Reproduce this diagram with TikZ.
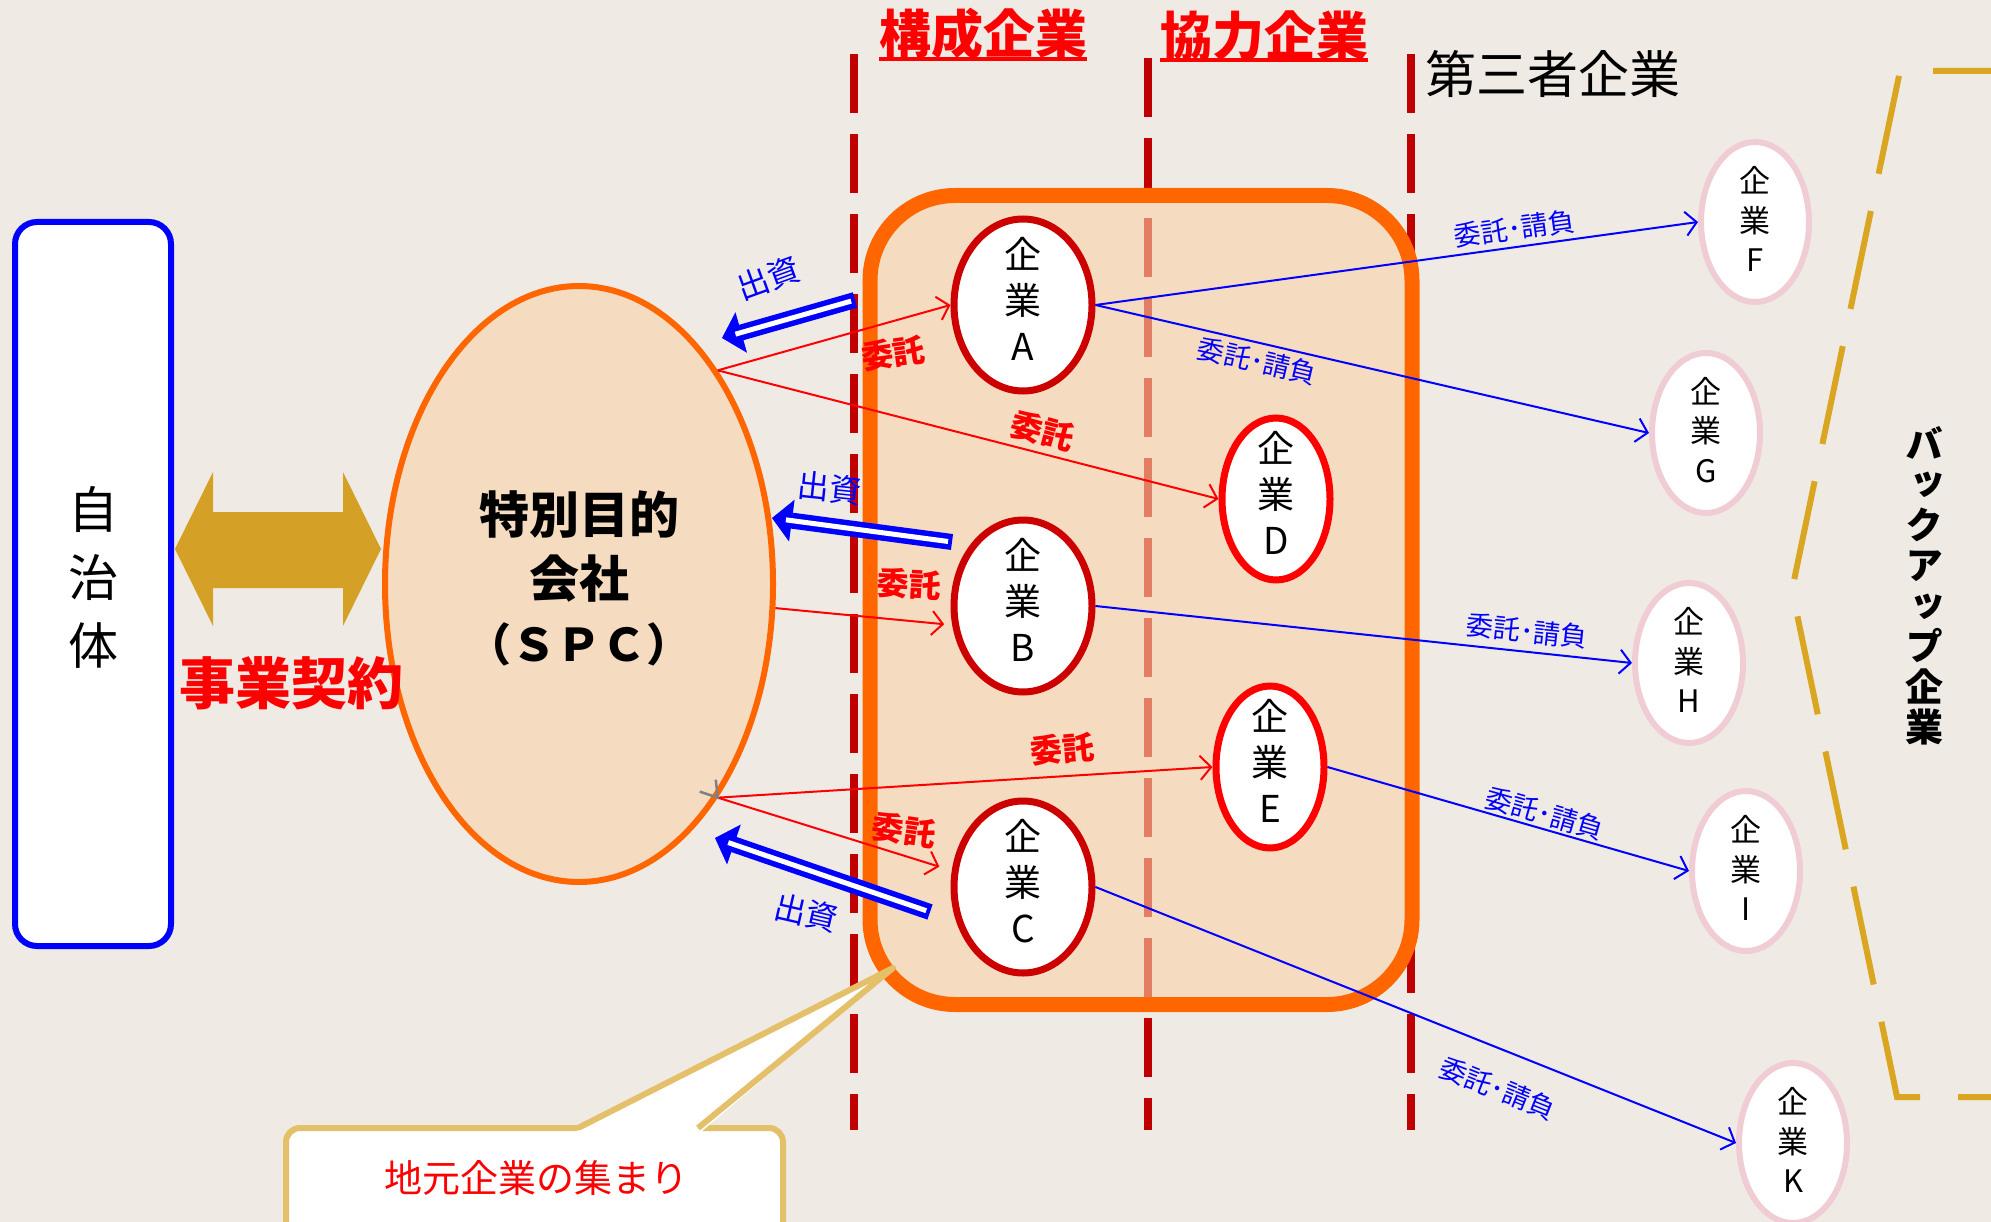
\documentclass[tikz,border=0pt]{standalone}
\usepackage{fontspec}
\newfontfamily\jp{Noto Sans CJK JP}
\newfontfamily\jpv[RawFeature=+vert]{Noto Sans CJK JP}
\usetikzlibrary{shapes.geometric,arrows.meta,calc}
\definecolor{bgc}{RGB}{239,235,228}
\definecolor{peach}{RGB}{245,220,192}
\definecolor{peachT}{RGB}{249,210,168}
\definecolor{orng}{RGB}{255,102,0}
\definecolor{dred}{RGB}{192,0,0}
\definecolor{ared}{RGB}{204,0,0}
\definecolor{gold}{RGB}{212,160,38}
\definecolor{goldd}{RGB}{218,165,32}
\definecolor{tanc}{RGB}{228,192,106}
\definecolor{pinkc}{RGB}{240,205,212}
\tikzset{
  sepline/.style={dred, line width=8pt, dash pattern=on 59pt off 21pt},
  redE/.style={ellipse, draw=ared, line width=7pt, fill=white, minimum width=138pt, minimum height=172pt, inner sep=0pt},
  redEE/.style={ellipse, draw=red, line width=7pt, fill=white, minimum width=108pt, minimum height=162pt, inner sep=0pt},
  pinkE/.style={ellipse, draw=pinkc, line width=6pt, fill=white, minimum width=108pt, minimum height=160pt, inner sep=0pt},
  etext/.style={align=center, inner sep=0pt, font=\jp\fontsize{37}{46}\selectfont},
  ptext/.style={align=center, inner sep=0pt, font=\jp\fontsize{31}{39.5}\selectfont},
  rarr/.style={red, line width=2pt, -{Straight Barb[length=11pt,width=24pt]}},
  barr/.style={blue, line width=2pt, -{Straight Barb[length=11pt,width=24pt]}},
  rlab/.style={text=red, inner sep=0pt, font=\jp\bfseries\fontsize{32}{32}\selectfont},
  blab/.style={text=blue, inner sep=0pt, font=\jp\fontsize{27}{27}\selectfont},
  zlab/.style={text=blue, inner sep=0pt, font=\jp\fontsize{32}{32}\selectfont},
  inv/.style={blue, line width=16pt, -{Triangle[length=20pt,width=42pt,line width=1pt]}},
  invin/.style={white, line width=5pt, shorten <=4pt, shorten >=14pt},
  hdr/.style={text=red, inner sep=0pt, font=\jp\bfseries\fontsize{52}{52}\selectfont},
}
\begin{document}
\begin{tikzpicture}[x=1pt,y=-1pt]
\path[use as bounding box, fill=bgc] (0,0) rectangle (1991,1222);
\clip (0,0) rectangle (1991,1222);

% separators
\coordinate (v1t) at (854,54); \coordinate (v1b) at (854,1130);
\coordinate (v2t) at (1148,58); \coordinate (v2b) at (1148,1130);
\coordinate (v3t) at (1411,54); \coordinate (v3b) at (1411,1130);
\draw[sepline] (v1t) -- (v1b);
\draw[sepline] (v2t) -- (v2b);
\draw[sepline] (v3t) -- (v3b);

% group of local companies
\node[draw=orng, line width=15pt, fill=peachT, fill opacity=0.6, rounded corners=85pt,
      minimum width=542pt, minimum height=809pt, inner sep=0pt] (grp) at (1141,600) {};

% headers
\node[hdr] (h1) at (983,34) {構成企業};
\draw[red, line width=4pt] ($(h1.south west)+(0,-1)$) -- ($(h1.south east)+(0,-1)$);
\node[hdr] (h2) at (1264,36) {協力企業};
\draw[red, line width=4pt] ($(h2.south west)+(0,-1)$) -- ($(h2.south east)+(0,-1)$);
\node[inner sep=0pt, font=\jp\fontsize{51}{51}\selectfont] (h3) at (1553,74) {第三者企業};

% municipality
\node[draw=blue, line width=6pt, fill=white, rounded corners=22pt, minimum width=156pt,
      minimum height=724pt] (jt) at (93,584) {};
\node[align=center, inner sep=0pt, font=\jp\fontsize{50}{68}\selectfont] (jtt) at (93,577) {自\\治\\体};

% business contract arrow
\coordinate (gl) at (175,549); \coordinate (gr) at (381,549);
\fill[gold] (gl) -- (213,472) -- (213,512) -- (343,512) -- (343,472) -- (gr)
   -- (343,626) -- (343,588) -- (213,588) -- (213,626) -- cycle;

% SPC
\node[ellipse, draw=orng, line width=6pt, fill=peach, minimum width=388pt, minimum height=596pt,
      inner sep=0pt] (spc) at (579,584) {};
\node[align=center, inner sep=0pt, font=\jp\bfseries\fontsize{50}{64}\selectfont] (spct) at (579,578)
      {特別目的\\会社\\{\fontsize{45}{64}\selectfont （ＳＰＣ）}};
\node[text=red, inner sep=0pt, font=\jp\bfseries\fontsize{56}{56}\selectfont] (jg) at (291,683) {事業契約};

% companies
\foreach \n/\x/\y/\s in {A/1023/305/redE, B/1023/606/redE, C/1023/887/redE, D/1276/499/redEE, E/1270/767/redEE} {
  \node[\s] (\n) at (\x,\y) {};
  \node[etext] (t\n) at (\x,\y-6) {企\\業\\\n};
}
\foreach \n/\x/\y in {F/1755/222, G/1706/433, H/1689/663, I/1746/871, K/1793/1143} {
  \node[pinkE] (\n) at (\x,\y) {};
  \node[ptext] (t\n) at (\x,\y-3) {企\\業\\\n};
}

% investment arrows
\coordinate (s1) at (855,300); \coordinate (e1) at (722,338);
\coordinate (s2) at (952,542); \coordinate (e2) at (772,518);
\coordinate (s3) at (930,912); \coordinate (e3) at (715,838);
\foreach \i in {1,2,3} {
  \draw[inv] (s\i) -- (e\i);
  \draw[invin] (s\i) -- (e\i);
}
\node[zlab, rotate=20] (z1) at (768,278) {出資};
\node[zlab, rotate=-6] (z2) at (830,488) {出資};
\node[zlab, rotate=-13] (z3) at (806,913) {出資};

% consignment arrows
\draw[rarr] (spc.57) -- (A.west);
\draw[rarr] (spc.57) -- (D.west);
\draw[rarr, shorten >=8pt] (spc.-7) -- (B.195);
\draw[rarr] (spc.-57) -- (E.west);
\draw[rarr, shorten >=13pt] (spc.-57) -- (C.167);
\coordinate (gv) at (spc.-57);
\draw[gray, line width=2.5pt] ($(gv)+(-2,-18)$) -- (gv) -- ($(gv)+(-18,-6)$);
\node[rlab, rotate=8] (k1) at (893,353) {委託};
\node[rlab, rotate=-15] (k2) at (1043,431) {委託};
\node[rlab, rotate=-3] (k3) at (909,584) {委託};
\node[rlab, rotate=5] (k4) at (1062,749) {委託};
\node[rlab, rotate=-8] (k5) at (904,830) {委託};

% subcontract arrows
\draw[barr] (A.east) -- node[blab, pos=0.70, above=5pt, sloped] (l1) {委託･請負} (F.west);
\draw[barr] (A.east) -- node[blab, pos=0.30, below=5pt, sloped] (l2) {委託･請負} (G.west);
\draw[barr] (B.east) -- node[blab, pos=0.80, above=7pt, sloped] (l3) {委託･請負} (H.west);
\draw[barr] (E.east) -- node[blab, pos=0.59, above=2pt, sloped] (l4) {委託･請負} (I.west);
\draw[barr] (C.east) -- node[blab, pos=0.65, below=24pt, sloped] (l5) {委託･請負} (K.west);

% backup bracket
\draw[goldd, line width=6pt, dash pattern=on 100pt off 38pt, dash phase=42pt]
  (1991,71) -- (1900,71) -- (1792,590) -- (1897,1097) -- (1991,1097);
\node[align=center, inner sep=0pt, font=\jpv\bfseries\fontsize{38}{40.5}\selectfont] (bu) at (1924,586)
  {バ\\ッ\\ク\\ア\\ッ\\プ\\企\\業};

% callout
\node[draw=tanc, line width=6pt, fill=white, rounded corners=14pt, minimum width=497pt,
      minimum height=120pt, inner sep=0pt] (cb) at (534.5,1188) {};
\coordinate (cpl) at (578,1128); \coordinate (cpr) at (698,1128); \coordinate (ctip) at (893,968);
\fill[white] ($(cpl)+(-3,4)$) -- (ctip) -- ($(cpr)+(3,4)$) -- cycle;
\draw[tanc, line width=6pt, line join=round] (cpl) -- (ctip) -- (cpr);
\node[text=red, inner sep=0pt, font=\jp\fontsize{38}{38}\selectfont] (cbt) at (536,1178) {地元企業の集まり};
\end{tikzpicture}
\end{document}
